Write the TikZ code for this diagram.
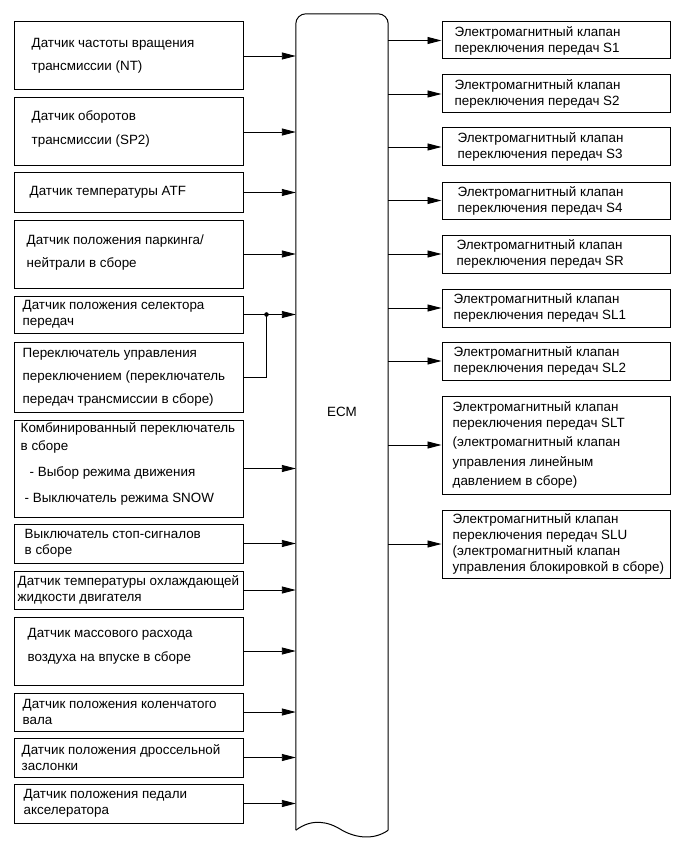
\documentclass[tikz,border=0pt]{standalone}
\usepackage{fontspec}
\setmainfont{Liberation Sans}
\usetikzlibrary{arrows.meta}
\begin{document}
\begin{tikzpicture}[x=1pt,y=-1pt,
  box/.style={draw, line width=1pt, inner sep=0pt, minimum width=229pt},
  rbox/.style={draw, line width=1pt, inner sep=0pt, minimum width=228pt},
  txt/.style={inner sep=0pt, anchor=west, align=left, font=\fontsize{13.4}{16}\selectfont},
  arr/.style={line width=0.9pt, -{Triangle[length=14pt,width=7pt]}},
  wire/.style={line width=0.9pt},
]
\useasboundingbox (0,0) rectangle (689,853);

% ECM
\node[inner sep=0pt, minimum width=92pt, minimum height=816pt] (ecm) at (342,422) {};
\draw[line width=1pt, rounded corners=10pt] (ecm.south west) -- (ecm.north west) -- (ecm.north east) -- (ecm.south east);
\draw[line width=1pt] (ecm.south east) .. controls ([shift={(-14,10)}]ecm.south east) and ([shift={(-32,8)}]ecm.south east) .. (ecm.south)
  .. controls ([shift={(-14,-9)}]ecm.south) and ([shift={(16,-12)}]ecm.south west) .. (ecm.south west);
\node[txt, anchor=center] (ecmlabel) at (342,412) {ECM};

% Left boxes
\node[box, minimum height=68pt] (b1) at (128.5,56) {};
\node[txt] (t1) at ([xshift=18pt]b1.west) {Датчик частоты вращения\\[7pt]трансмиссии (NT)};
\node[box, minimum height=68pt] (b2) at (128.5,132) {};
\node[txt] (t2) at ([xshift=18pt,yshift=3pt]b2.west) {Датчик оборотов\\[8pt]трансмиссии (SP2)};
\node[box, minimum height=39pt] (b3) at (128.5,192.5) {};
\node[txt] (t3) at ([xshift=16pt]b3.west) {Датчик температуры ATF};
\node[box, minimum height=68pt] (b4) at (128.5,254) {};
\node[txt] (t4) at ([xshift=13pt,yshift=1pt]b4.west) {Датчик положения паркинга/\\[7pt]нейтрали в сборе};
\node[box, minimum height=37pt] (b5) at (128.5,314.5) {};
\node[txt] (t5) at ([xshift=9pt]b5.west) {Датчик положения селектора\\передач};
\node[box, minimum height=70pt] (b6) at (128.5,377) {};
\node[txt] (t6) at ([xshift=9pt]b6.west) {Переключатель управления\\[7pt]переключением (переключатель\\[7pt]передач трансмиссии в сборе)};
\node[box, minimum height=97pt] (b7) at (128.5,468.5) {};
\node[txt] (t7) at ([xshift=7pt,yshift=5pt]b7.west) {Комбинированный переключатель\\[2pt]в сборе\\[10pt]\hspace*{9pt}- Выбор режима движения\\[10pt]\hspace*{4pt}- Выключатель режима SNOW};
\node[box, minimum height=39pt] (b8) at (128.5,543.5) {};
\node[txt] (t8) at ([xshift=11pt]b8.west) {Выключатель стоп-сигналов\\в сборе};
\node[box, minimum height=38pt] (b9) at (128.5,590) {};
\node[txt] (t9) at ([xshift=4pt]b9.west) {Датчик температуры охлаждающей\\жидкости двигателя};
\node[box, minimum height=68pt] (b10) at (128.5,651) {};
\node[txt] (t10) at ([xshift=14pt,yshift=5pt]b10.west) {Датчик массового расхода\\[8pt]воздуха на впуске в сборе};
\node[box, minimum height=38pt] (b11) at (128.5,712) {};
\node[txt] (t11) at ([xshift=9pt]b11.west) {Датчик положения коленчатого\\вала};
\node[box, minimum height=39pt] (b12) at (128.5,757.5) {};
\node[txt] (t12) at ([xshift=8pt]b12.west) {Датчик положения дроссельной\\заслонки};
\node[box, minimum height=39pt] (b13) at (128.5,803.5) {};
\node[txt] (t13) at ([xshift=10pt]b13.west) {Датчик положения педали\\акселератора};

% Left arrows
\foreach \b in {b1,b2,b3,b4,b5,b7,b8,b9,b10,b11,b12,b13}
  \draw[arr] (\b.east) -- (\b.east -| ecm.west);
\coordinate (jn) at ([xshift=23pt]b5.east);
\draw[wire] (b6.east) -| (jn);
\fill (jn) circle (2.3pt);

% Right boxes
\node[rbox, minimum height=37pt] (r1) at (556,40.5) {};
\node[txt] (s1) at ([xshift=13pt]r1.west) {Электромагнитный клапан\\переключения передач S1};
\node[rbox, minimum height=38pt] (r2) at (556,94) {};
\node[txt] (s2) at ([xshift=13pt]r2.west) {Электромагнитный клапан\\переключения передач S2};
\node[rbox, minimum height=38pt] (r3) at (556,147) {};
\node[txt] (s3) at ([xshift=16pt]r3.west) {Электромагнитный клапан\\переключения передач S3};
\node[rbox, minimum height=37pt] (r4) at (556,200.5) {};
\node[txt] (s4) at ([xshift=16pt]r4.west) {Электромагнитный клапан\\переключения передач S4};
\node[rbox, minimum height=38pt] (r5) at (556,254) {};
\node[txt] (s5) at ([xshift=15pt]r5.west) {Электромагнитный клапан\\переключения передач SR};
\node[rbox, minimum height=38pt] (r6) at (556,308) {};
\node[txt] (s6) at ([xshift=12pt]r6.west) {Электромагнитный клапан\\переключения передач SL1};
\node[rbox, minimum height=38pt] (r7) at (556,361) {};
\node[txt] (s7) at ([xshift=12pt]r7.west) {Электромагнитный клапан\\переключения передач SL2};
\node[rbox, minimum height=98pt] (r8) at (556,445) {};
\node[txt] (s8) at ([xshift=11pt]r8.west) {Электромагнитный клапан\\переключения передач SLT\\[3.5pt](электромагнитный клапан\\[3.5pt]управления линейным\\[3.5pt]давлением в сборе)};
\node[rbox, minimum height=68pt] (r9) at (556,544) {};
\node[txt] (s9) at ([xshift=11pt]r9.west) {Электромагнитный клапан\\переключения передач SLU\\(электромагнитный клапан\\управления блокировкой в сборе)};

% Right arrows
\foreach \r in {r1,r2,r3,r4,r5,r6,r7,r8,r9}
  \draw[arr] (\r.west -| ecm.east) -- (\r.west);
\end{tikzpicture}
\end{document}
